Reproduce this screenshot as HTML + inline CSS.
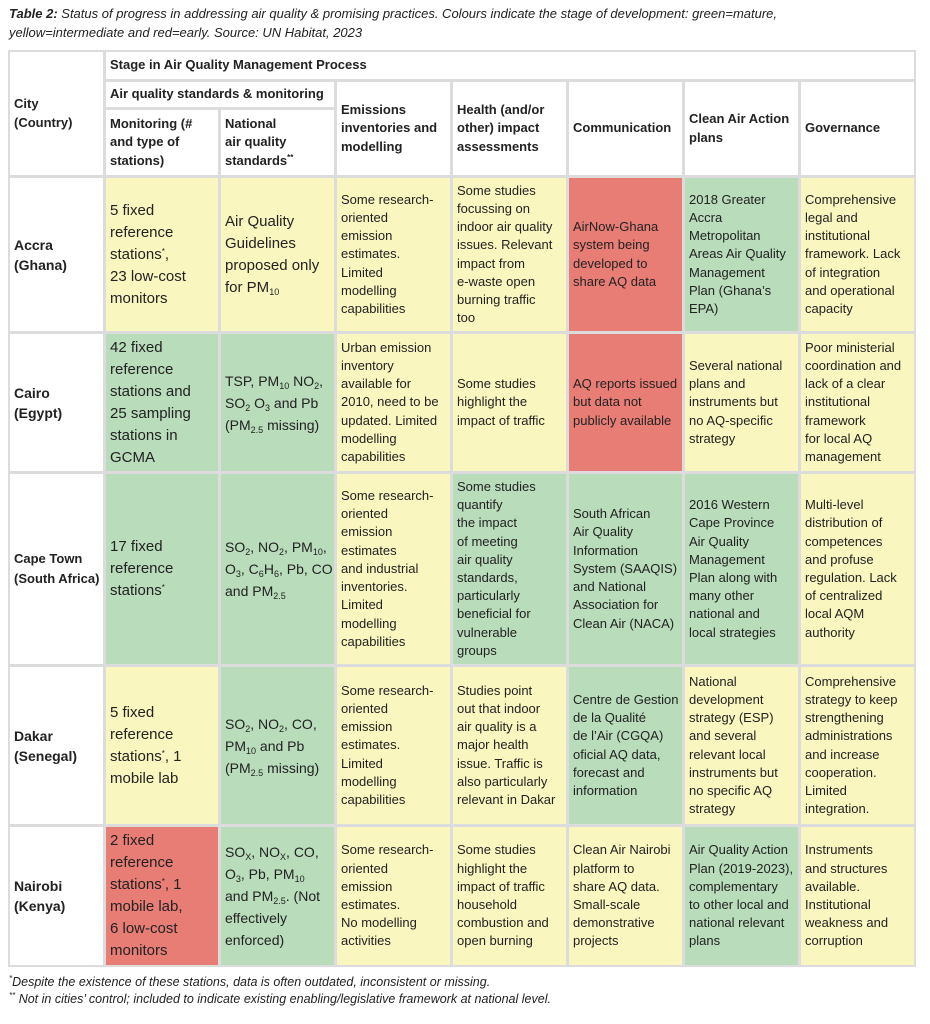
<!DOCTYPE html>
<html><head><meta charset="utf-8">
<style>
*{box-sizing:border-box;margin:0;padding:0}
body{width:930px;height:1024px;background:#fff;font-family:"Liberation Sans",sans-serif;color:#222;position:relative;overflow:hidden}
.cap{position:absolute;left:9px;top:4px;font-size:13px;line-height:19px;font-style:italic;color:#222}
.tbl{position:absolute;left:8px;top:50px;width:908px;height:917px;background:#dcdcdc}
.c{position:absolute;display:flex;align-items:center;padding-left:4px;font-size:13px;line-height:18.2px;white-space:nowrap;background:#fff;overflow:hidden}
.c>div{display:block}
.h{font-weight:bold;font-size:13px}
.big{font-size:15px;line-height:22px}
.city{font-weight:bold;font-size:14px;line-height:20px}
.Y{background:#faf6bf}.G{background:#b9dcbb}.R{background:#e87d76}
sub{font-size:9px;vertical-align:-3px;line-height:0}
sup{font-size:8px;vertical-align:5px;line-height:0}
.fn{position:absolute;left:9px;font-size:12.5px;font-style:italic;color:#222}
</style></head><body>
<div class="cap"><b>Table 2:</b> Status of progress in addressing air quality &amp; promising practices. Colours indicate the stage of development: green=mature,<br>yellow=intermediate and red=early. Source: UN Habitat, 2023</div>
<div class="tbl">
<div class="c h" style="left:2px;top:2px;width:93px;height:123px"><div>City<br>(Country)</div></div>
<div class="c h" style="left:98px;top:2px;width:808px;height:27px"><div>Stage in Air Quality Management Process</div></div>
<div class="c h" style="left:98px;top:32px;width:228px;height:25px"><div>Air quality standards &amp; monitoring</div></div>
<div class="c h" style="left:98px;top:60px;width:112px;height:65px"><div>Monitoring (#<br>and type of<br>stations)</div></div>
<div class="c h" style="left:213px;top:60px;width:113px;height:65px"><div>National<br>air quality<br>standards<sup>**</sup></div></div>
<div class="c h" style="left:329px;top:32px;width:113px;height:93px"><div>Emissions<br>inventories and<br>modelling</div></div>
<div class="c h" style="left:445px;top:32px;width:113px;height:93px"><div>Health (and/or<br>other) impact<br>assessments</div></div>
<div class="c h" style="left:561px;top:32px;width:113px;height:93px"><div>Communication</div></div>
<div class="c h" style="left:677px;top:32px;width:113px;height:93px"><div>Clean Air Action<br>plans</div></div>
<div class="c h" style="left:793px;top:32px;width:113px;height:93px"><div>Governance</div></div>

<div class="c city" style="left:2px;top:128px;width:93px;height:153px"><div>Accra<br>(Ghana)</div></div>
<div class="c big Y" style="left:98px;top:128px;width:112px;height:153px"><div>5 fixed<br>reference<br>stations<sup>*</sup>,<br>23 low-cost<br>monitors</div></div>
<div class="c big Y" style="left:213px;top:128px;width:113px;height:153px"><div>Air Quality<br>Guidelines<br>proposed only<br>for PM<sub>10</sub></div></div>
<div class="c Y" style="left:329px;top:128px;width:113px;height:153px"><div>Some research-<br>oriented<br>emission<br>estimates.<br>Limited<br>modelling<br>capabilities</div></div>
<div class="c Y" style="left:445px;top:128px;width:113px;height:153px"><div>Some studies<br>focussing on<br>indoor air quality<br>issues. Relevant<br>impact from<br>e-waste open<br>burning traffic<br>too</div></div>
<div class="c R" style="left:561px;top:128px;width:113px;height:153px"><div>AirNow-Ghana<br>system being<br>developed to<br>share AQ data</div></div>
<div class="c G" style="left:677px;top:128px;width:113px;height:153px"><div>2018 Greater<br>Accra<br>Metropolitan<br>Areas Air Quality<br>Management<br>Plan (Ghana’s<br>EPA)</div></div>
<div class="c Y" style="left:793px;top:128px;width:113px;height:153px"><div>Comprehensive<br>legal and<br>institutional<br>framework. Lack<br>of integration<br>and operational<br>capacity</div></div>

<div class="c city" style="left:2px;top:284px;width:93px;height:137px"><div>Cairo<br>(Egypt)</div></div>
<div class="c big G" style="left:98px;top:284px;width:112px;height:137px"><div>42 fixed<br>reference<br>stations and<br>25 sampling<br>stations in<br>GCMA</div></div>
<div class="c big G" style="left:213px;top:284px;width:113px;height:137px"><div style="font-size:14px">TSP, PM<sub>10</sub> NO<sub>2</sub>,<br>SO<sub>2</sub> O<sub>3</sub> and Pb<br>(PM<sub>2.5</sub> missing)</div></div>
<div class="c Y" style="left:329px;top:284px;width:113px;height:137px"><div>Urban emission<br>inventory<br>available for<br>2010, need to be<br>updated. Limited<br>modelling<br>capabilities</div></div>
<div class="c Y" style="left:445px;top:284px;width:113px;height:137px"><div>Some studies<br>highlight the<br>impact of traffic</div></div>
<div class="c R" style="left:561px;top:284px;width:113px;height:137px"><div>AQ reports issued<br>but data not<br>publicly available</div></div>
<div class="c Y" style="left:677px;top:284px;width:113px;height:137px"><div>Several national<br>plans and<br>instruments but<br>no AQ-specific<br>strategy</div></div>
<div class="c Y" style="left:793px;top:284px;width:113px;height:137px"><div>Poor ministerial<br>coordination and<br>lack of a clear<br>institutional<br>framework<br>for local AQ<br>management</div></div>

<div class="c city" style="left:2px;top:424px;width:93px;height:190px;font-size:13px"><div>Cape Town<br>(South Africa)</div></div>
<div class="c big G" style="left:98px;top:424px;width:112px;height:190px"><div>17 fixed<br>reference<br>stations<sup>*</sup></div></div>
<div class="c big G" style="left:213px;top:424px;width:113px;height:190px"><div style="font-size:14px">SO<sub>2</sub>, NO<sub>2</sub>, PM<sub>10</sub>,<br>O<sub>3</sub>, C<sub>6</sub>H<sub>6</sub>, Pb, CO<br>and PM<sub>2.5</sub></div></div>
<div class="c Y" style="left:329px;top:424px;width:113px;height:190px"><div>Some research-<br>oriented<br>emission<br>estimates<br>and industrial<br>inventories.<br>Limited<br>modelling<br>capabilities</div></div>
<div class="c G" style="left:445px;top:424px;width:113px;height:190px"><div>Some studies<br>quantify<br>the impact<br>of meeting<br>air quality<br>standards,<br>particularly<br>beneficial for<br>vulnerable<br>groups</div></div>
<div class="c G" style="left:561px;top:424px;width:113px;height:190px"><div>South African<br>Air Quality<br>Information<br>System (SAAQIS)<br>and National<br>Association for<br>Clean Air (NACA)</div></div>
<div class="c G" style="left:677px;top:424px;width:113px;height:190px"><div>2016 Western<br>Cape Province<br>Air Quality<br>Management<br>Plan along with<br>many other<br>national and<br>local strategies</div></div>
<div class="c Y" style="left:793px;top:424px;width:113px;height:190px"><div>Multi-level<br>distribution of<br>competences<br>and profuse<br>regulation. Lack<br>of centralized<br>local AQM<br>authority</div></div>

<div class="c city" style="left:2px;top:617px;width:93px;height:157px"><div>Dakar<br>(Senegal)</div></div>
<div class="c big Y" style="left:98px;top:617px;width:112px;height:157px"><div>5 fixed<br>reference<br>stations<sup>*</sup>, 1<br>mobile lab</div></div>
<div class="c big G" style="left:213px;top:617px;width:113px;height:157px"><div style="font-size:14px">SO<sub>2</sub>, NO<sub>2</sub>, CO,<br>PM<sub>10</sub> and Pb<br>(PM<sub>2.5</sub> missing)</div></div>
<div class="c Y" style="left:329px;top:617px;width:113px;height:157px"><div>Some research-<br>oriented<br>emission<br>estimates.<br>Limited<br>modelling<br>capabilities</div></div>
<div class="c Y" style="left:445px;top:617px;width:113px;height:157px"><div>Studies point<br>out that indoor<br>air quality is a<br>major health<br>issue. Traffic is<br>also particularly<br>relevant in Dakar</div></div>
<div class="c G" style="left:561px;top:617px;width:113px;height:157px"><div>Centre de Gestion<br>de la Qualité<br>de l’Air (CGQA)<br>oficial AQ data,<br>forecast and<br>information</div></div>
<div class="c Y" style="left:677px;top:617px;width:113px;height:157px"><div>National<br>development<br>strategy (ESP)<br>and several<br>relevant local<br>instruments but<br>no specific AQ<br>strategy</div></div>
<div class="c Y" style="left:793px;top:617px;width:113px;height:157px"><div>Comprehensive<br>strategy to keep<br>strengthening<br>administrations<br>and increase<br>cooperation.<br>Limited<br>integration.</div></div>

<div class="c city" style="left:2px;top:777px;width:93px;height:138px"><div>Nairobi<br>(Kenya)</div></div>
<div class="c big R" style="left:98px;top:777px;width:112px;height:138px"><div>2 fixed<br>reference<br>stations<sup>*</sup>, 1<br>mobile lab,<br>6 low-cost<br>monitors</div></div>
<div class="c big G" style="left:213px;top:777px;width:113px;height:138px"><div style="font-size:14px">SO<sub>X</sub>, NO<sub>X</sub>, CO,<br>O<sub>3</sub>, Pb, PM<sub>10</sub><br>and PM<sub>2.5</sub>. (Not<br>effectively<br>enforced)</div></div>
<div class="c Y" style="left:329px;top:777px;width:113px;height:138px"><div>Some research-<br>oriented<br>emission<br>estimates.<br>No modelling<br>activities</div></div>
<div class="c Y" style="left:445px;top:777px;width:113px;height:138px"><div>Some studies<br>highlight the<br>impact of traffic<br>household<br>combustion and<br>open burning</div></div>
<div class="c Y" style="left:561px;top:777px;width:113px;height:138px"><div>Clean Air Nairobi<br>platform to<br>share AQ data.<br>Small-scale<br>demonstrative<br>projects</div></div>
<div class="c G" style="left:677px;top:777px;width:113px;height:138px"><div>Air Quality Action<br>Plan (2019-2023),<br>complementary<br>to other local and<br>national relevant<br>plans</div></div>
<div class="c Y" style="left:793px;top:777px;width:113px;height:138px"><div>Instruments<br>and structures<br>available.<br>Institutional<br>weakness and<br>corruption</div></div>
</div>
<div class="fn" style="top:975px"><sup>*</sup>Despite the existence of these stations, data is often outdated, inconsistent or missing.</div>
<div class="fn" style="top:992px"><sup>**</sup> Not in cities’ control; included to indicate existing enabling/legislative framework at national level.</div>
</body></html>
